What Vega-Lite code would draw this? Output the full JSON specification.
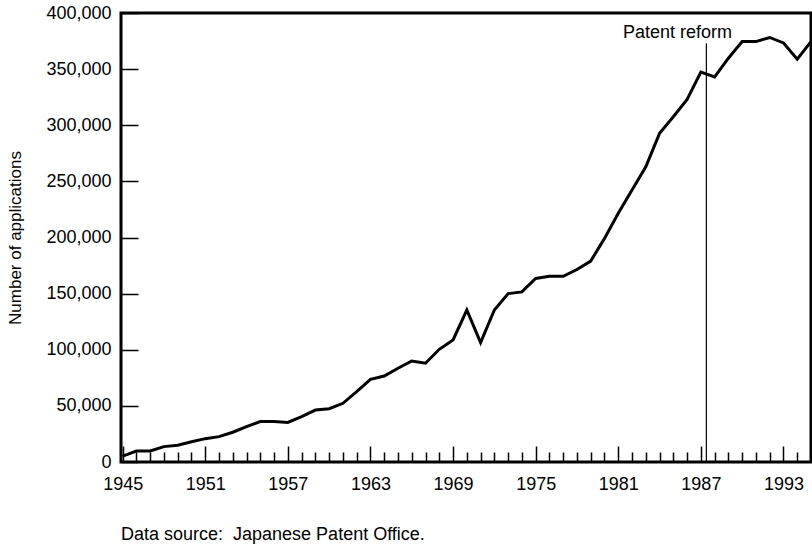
{
  "$schema": "https://vega.github.io/schema/vega-lite/v6.json",
  "width": 690,
  "height": 449,
  "autosize": {"type": "none"},
  "padding": {"left": 121, "top": 13, "right": 1, "bottom": 84},
  "background": "white",
  "config": {
    "font": "Liberation Sans",
    "view": {"stroke": "black", "strokeWidth": 3},
    "text": {"font": "Liberation Sans"}
  },
  "title": {
    "text": "Data source:\u00a0 Japanese Patent Office.",
    "orient": "bottom",
    "anchor": "start",
    "frame": "group",
    "fontSize": 18,
    "fontWeight": "normal",
    "color": "black",
    "font": "Liberation Sans",
    "offset": 27
  },
  "datasets": {
    "applications": [
      {"year": 1945, "count": 5300},
      {"year": 1946, "count": 9800},
      {"year": 1947, "count": 9800},
      {"year": 1948, "count": 13700},
      {"year": 1949, "count": 15000},
      {"year": 1950, "count": 18000},
      {"year": 1951, "count": 20800},
      {"year": 1952, "count": 22600},
      {"year": 1953, "count": 26500},
      {"year": 1954, "count": 31500},
      {"year": 1955, "count": 36000},
      {"year": 1956, "count": 36000},
      {"year": 1957, "count": 35300},
      {"year": 1958, "count": 40400},
      {"year": 1959, "count": 46300},
      {"year": 1960, "count": 47500},
      {"year": 1961, "count": 52300},
      {"year": 1962, "count": 62600},
      {"year": 1963, "count": 73700},
      {"year": 1964, "count": 76600},
      {"year": 1965, "count": 83500},
      {"year": 1966, "count": 90000},
      {"year": 1967, "count": 88000},
      {"year": 1968, "count": 100400},
      {"year": 1969, "count": 108700},
      {"year": 1970, "count": 135400},
      {"year": 1971, "count": 106300},
      {"year": 1972, "count": 135400},
      {"year": 1973, "count": 150000},
      {"year": 1974, "count": 151500},
      {"year": 1975, "count": 163500},
      {"year": 1976, "count": 165500},
      {"year": 1977, "count": 165500},
      {"year": 1978, "count": 171500},
      {"year": 1979, "count": 179000},
      {"year": 1980, "count": 199200},
      {"year": 1981, "count": 221600},
      {"year": 1982, "count": 242300},
      {"year": 1983, "count": 263000},
      {"year": 1984, "count": 292800},
      {"year": 1985, "count": 307600},
      {"year": 1986, "count": 323000},
      {"year": 1987, "count": 347400},
      {"year": 1988, "count": 343000},
      {"year": 1989, "count": 359700},
      {"year": 1990, "count": 374500},
      {"year": 1991, "count": 374500},
      {"year": 1992, "count": 378200},
      {"year": 1993, "count": 373300},
      {"year": 1994, "count": 358800},
      {"year": 1995, "count": 374500}
    ],
    "reformLine": [
      {"year": 1987.4, "count": 373000}
    ],
    "reformLabel": [
      {"year": 1985.3, "count": 377700, "label": "Patent reform"}
    ]
  },
  "encoding": {
    "x": {
      "field": "year",
      "type": "quantitative",
      "scale": {"domain": [1944.88, 1995], "nice": false, "zero": false},
      "axis": {
        "title": null,
        "values": [1945,1946,1947,1948,1949,1950,1951,1952,1953,1954,1955,1956,1957,1958,1959,1960,1961,1962,1963,1964,1965,1966,1967,1968,1969,1970,1971,1972,1973,1974,1975,1976,1977,1978,1979,1980,1981,1982,1983,1984,1985,1986,1987,1988,1989,1990,1991,1992,1993,1994],
        "format": "d",
        "labelExpr": "(datum.value - 1945) % 6 == 0 ? datum.label : ''",
        "labelOverlap": false,
        "labelFlush": false,
        "labelFontSize": 18,
        "labelColor": "black",
        "labelFont": "Liberation Sans",
        "labelPadding": 29,
        "tickColor": "black",
        "tickWidth": 1.5,
        "tickSize": {"condition": {"test": "(datum.value - 1945) % 6 == 0", "value": -16}, "value": -10},
        "domain": false,
        "grid": false
      }
    },
    "y": {
      "field": "count",
      "type": "quantitative",
      "scale": {"domain": [0, 400000], "nice": false},
      "axis": {
        "title": "Number of applications",
        "values": [0, 50000, 100000, 150000, 200000, 250000, 300000, 350000, 400000],
        "format": ",d",
        "tickSize": -17,
        "tickWidth": 1.5,
        "tickColor": "black",
        "labelPadding": 27,
        "labelFontSize": 18,
        "labelColor": "black",
        "labelFont": "Liberation Sans",
        "titleFontSize": 17,
        "titleFontWeight": "normal",
        "titleColor": "black",
        "titleFont": "Liberation Sans",
        "titlePadding": 21,
        "domain": false,
        "grid": false
      }
    }
  },
  "layer": [
    {
      "data": {"name": "applications"},
      "mark": {"type": "line", "color": "black", "strokeWidth": 3, "strokeJoin": "miter", "clip": false}
    },
    {
      "data": {"name": "reformLine"},
      "mark": {"type": "rule", "color": "black", "strokeWidth": 1.2},
      "encoding": {
        "y2": {"datum": 0}
      }
    },
    {
      "data": {"name": "reformLabel"},
      "mark": {"type": "text", "color": "black", "fontSize": 18, "align": "center", "baseline": "alphabetic", "font": "Liberation Sans"},
      "encoding": {
        "text": {"field": "label"}
      }
    }
  ]
}
